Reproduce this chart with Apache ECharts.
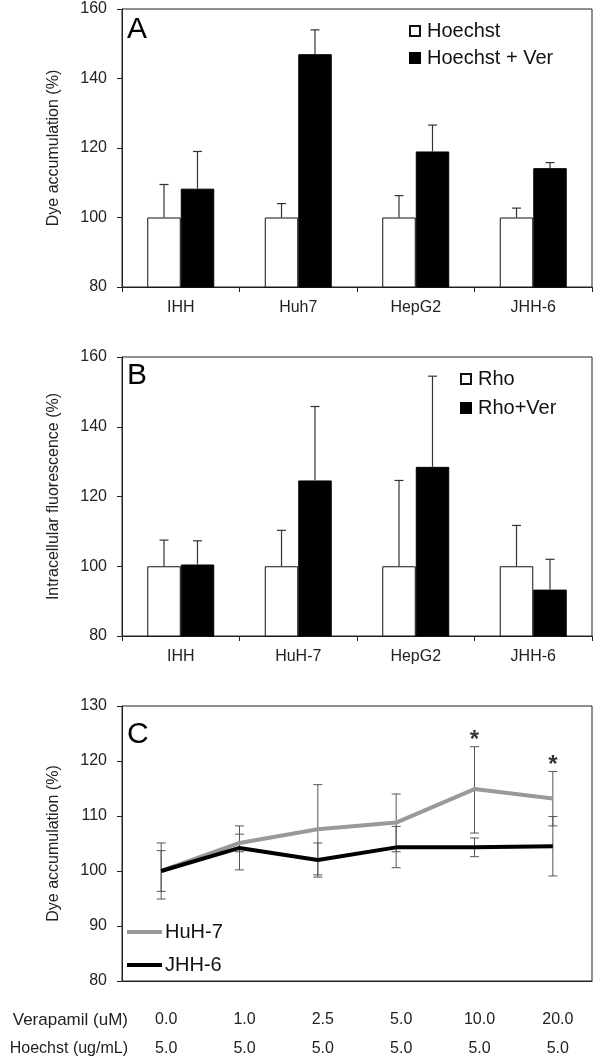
<!DOCTYPE html>
<html><head><meta charset="utf-8">
<script src="https://cdn.jsdelivr.net/npm/echarts@6/dist/echarts.min.js"></script>
<style>html,body{margin:0;padding:0;background:#fff}#c{width:600px;height:1063px}</style>
</head><body><div id="c"></div>
<script>
// Panel A
const catsA = ['IHH', 'Huh7', 'HepG2', 'JHH-6'];
const hoechst = [100, 100, 100, 100];
const hoechstErr = [109.5, 104, 106.3, 102.7];
const hoechstVer = [108.3, 147, 119, 114.2];
const hoechstVerErr = [119, 154, 126.6, 115.8];
// Panel B
const catsB = ['IHH', 'HuH-7', 'HepG2', 'JHH-6'];
const rho = [100, 100, 100, 100];
const rhoErr = [107.5, 110.3, 124.6, 111.7];
const rhoVer = [100.5, 124.6, 128.5, 93.3];
const rhoVerErr = [107.3, 145.8, 154.5, 102];
// Panel C
const verapamil = ['0.0', '1.0', '2.5', '5.0', '10.0', '20.0'];
const hoechstConc = ['5.0', '5.0', '5.0', '5.0', '5.0', '5.0'];
const huh7 = [100, 105.1, 107.6, 108.8, 114.9, 113.2];
const huh7Lo = [94.9, 103.5, 99.3, 103.5, 106.9, 108.2];
const huh7Hi = [105.1, 106.7, 115.7, 114.0, 122.6, 118.1];
const jhh6 = [100, 104.2, 102.0, 104.3, 104.3, 104.5];
const jhh6Lo = [96.3, 100.2, 98.9, 100.6, 102.6, 99.1];
const jhh6Hi = [103.7, 108.2, 105.1, 108.1, 106.0, 109.9];
const sigIdx = [4, 5];

const FONT = '"Liberation Sans", Arial, sans-serif';
const chart = echarts.init(document.getElementById('c'));

function barErr(name, axisIdx, vals, errs, offFrac) {
  return {
    type: 'custom', name: name + '_err', xAxisIndex: axisIdx, yAxisIndex: axisIdx, z: 5,
    data: vals.map((v, i) => [i, v, errs[i]]),
    renderItem(params, api) {
      const i = api.value(0);
      const p0 = api.coord([i, api.value(1)]);
      const p1 = api.coord([i, api.value(2)]);
      const cw = api.size([1, 0])[0];
      const x = p0[0] + offFrac * cw;
      const st = { stroke: '#333', lineWidth: 1.2 };
      return { type: 'group', children: [
        { type: 'line', shape: { x1: x, y1: p0[1], x2: x, y2: p1[1] }, style: st },
        { type: 'line', shape: { x1: x - 4.5, y1: p1[1], x2: x + 4.5, y2: p1[1] }, style: st }
      ]};
    }
  };
}
function lineErr(name, lo, hi) {
  return {
    type: 'custom', name: name + '_err', xAxisIndex: 2, yAxisIndex: 2, z: 1,
    data: lo.map((v, i) => [i, v, hi[i]]),
    renderItem(params, api) {
      const i = api.value(0);
      const a = api.coord([i, api.value(1)]);
      const b = api.coord([i, api.value(2)]);
      const st = { stroke: '#555', lineWidth: 1 };
      return { type: 'group', children: [
        { type: 'line', shape: { x1: a[0], y1: a[1], x2: b[0], y2: b[1] }, style: st },
        { type: 'line', shape: { x1: a[0] - 4.5, y1: a[1], x2: a[0] + 4.5, y2: a[1] }, style: st },
        { type: 'line', shape: { x1: b[0] - 4.5, y1: b[1], x2: b[0] + 4.5, y2: b[1] }, style: st }
      ]};
    }
  };
}

const axisLine = { show: true, lineStyle: { color: '#222', width: 1 } };
const yCommon = {
  type: 'value', axisLine, splitLine: { show: false },
  axisTick: { show: true, length: 5, lineStyle: { color: '#222' } },
  axisLabel: { color: '#222', fontSize: 16, fontFamily: FONT, margin: 15 },
  nameLocation: 'middle', nameRotate: 90,
  nameTextStyle: { color: '#222', fontSize: 16, fontFamily: FONT }
};
const xBar = (cats) => ({
  type: 'category', data: cats, axisLine,
  axisTick: { show: true, length: 5, alignWithLabel: false, lineStyle: { color: '#222' } },
  axisLabel: { color: '#222', fontSize: 16, fontFamily: FONT, margin: 13 }
});

const option = {
  animation: false,
  backgroundColor: '#fff',
  grid: [
    { left: 122, right: 8, top: 9, height: 278, show: true, borderColor: '#222', borderWidth: 1 },
    { left: 122, right: 8, top: 357, height: 279, show: true, borderColor: '#222', borderWidth: 1 },
    { left: 122, right: 8, top: 706, height: 286, show: true, borderColor: '#222', borderWidth: 1 }
  ],
  xAxis: [
    Object.assign(xBar(catsA), { gridIndex: 0 }),
    Object.assign(xBar(catsB), { gridIndex: 1 }),
    {
      gridIndex: 2, type: 'category', data: verapamil, axisLine, axisTick: { show: false },
      axisLabel: {
        color: '#222', fontSize: 16, fontFamily: FONT, margin: 24, lineHeight: 29,
        padding: [0, 0, 0, 10],
        formatter: (v, i) => v + '\n' + hoechstConc[i]
      }
    }
  ],
  yAxis: [
    Object.assign({}, yCommon, { gridIndex: 0, min: 80, max: 160, interval: 20, name: 'Dye accumulation (%)', nameGap: 60 }),
    Object.assign({}, yCommon, { gridIndex: 1, min: 80, max: 160, interval: 20, name: 'Intracellular fluorescence (%)', nameGap: 60 }),
    Object.assign({}, yCommon, { gridIndex: 2, min: 80, max: 130, interval: 10, name: 'Dye accumulation (%)', nameGap: 60 })
  ],
  legend: [
    { data: [{ name: 'Hoechst', icon: 'rect' }, { name: 'Hoechst + Ver', icon: 'rect' }], orient: 'vertical', left: 409, top: 21, padding: 0,
      itemWidth: 10, itemHeight: 10, itemGap: 7,
      textStyle: { fontSize: 20, color: '#111', fontFamily: FONT, padding: [0, 0, 0, 2] } },
    { data: [{ name: 'Rho', icon: 'rect' }, { name: 'Rho+Ver', icon: 'rect' }], orient: 'vertical', left: 460, top: 369, padding: 0,
      itemWidth: 10, itemHeight: 10, itemGap: 9,
      textStyle: { fontSize: 20, color: '#111', fontFamily: FONT, padding: [0, 0, 0, 2] } },
    { data: [{ name: 'HuH-7', icon: 'rect' }, { name: 'JHH-6', icon: 'rect' }], orient: 'vertical', left: 127, top: 922, padding: 0,
      itemWidth: 35, itemHeight: 4, itemGap: 13,
      textStyle: { fontSize: 20, color: '#111', fontFamily: FONT, padding: [0, 0, 0, -2] } }
  ],
  graphic: [
    { type: 'text', left: 127, top: 15, style: { text: 'A', font: '30px ' + FONT, fill: '#000' } },
    { type: 'text', left: 127, top: 361, style: { text: 'B', font: '30px ' + FONT, fill: '#000' } },
    { type: 'text', left: 127, top: 720, style: { text: 'C', font: '30px ' + FONT, fill: '#000' } },
    { type: 'text', right: 472, top: 1012, style: { text: 'Verapamil (uM)', font: '17px ' + FONT, fill: '#222', align: 'right' } },
    { type: 'text', right: 472, top: 1041, style: { text: 'Hoechst (ug/mL)', font: '16px ' + FONT, fill: '#222', align: 'right' } }
  ],
  series: [
    { type: 'bar', name: 'Hoechst', xAxisIndex: 0, yAxisIndex: 0, data: hoechst, barGap: '0%', barCategoryGap: '43%',
      itemStyle: { color: '#fff', borderColor: '#111', borderWidth: 1 } },
    { type: 'bar', name: 'Hoechst + Ver', xAxisIndex: 0, yAxisIndex: 0, data: hoechstVer, barGap: '0%', barCategoryGap: '43%',
      itemStyle: { color: '#000', borderColor: '#000', borderWidth: 1 } },
    barErr('Hoechst', 0, hoechst, hoechstErr, -0.1425),
    barErr('Hoechst + Ver', 0, hoechstVer, hoechstVerErr, 0.1425),
    { type: 'bar', name: 'Rho', xAxisIndex: 1, yAxisIndex: 1, data: rho, barGap: '0%', barCategoryGap: '43%',
      itemStyle: { color: '#fff', borderColor: '#111', borderWidth: 1 } },
    { type: 'bar', name: 'Rho+Ver', xAxisIndex: 1, yAxisIndex: 1, data: rhoVer, barGap: '0%', barCategoryGap: '43%',
      itemStyle: { color: '#000', borderColor: '#000', borderWidth: 1 } },
    barErr('Rho', 1, rho, rhoErr, -0.1425),
    barErr('Rho+Ver', 1, rhoVer, rhoVerErr, 0.1425),
    lineErr('HuH-7', huh7Lo, huh7Hi),
    lineErr('JHH-6', jhh6Lo, jhh6Hi),
    { type: 'line', name: 'HuH-7', xAxisIndex: 2, yAxisIndex: 2, data: huh7, symbol: 'none', z: 3,
      lineStyle: { color: '#999', width: 4 }, itemStyle: { color: '#999' } },
    { type: 'line', name: 'JHH-6', xAxisIndex: 2, yAxisIndex: 2, data: jhh6, symbol: 'none', z: 4,
      lineStyle: { color: '#000', width: 4 }, itemStyle: { color: '#000' } },
    { type: 'scatter', name: 'sig', xAxisIndex: 2, yAxisIndex: 2, symbolSize: 0, z: 6,
      data: sigIdx.map(i => [i, huh7Hi[i]]),
      label: { show: true, position: 'top', distance: -6, formatter: '*', fontSize: 24, fontWeight: 'bold', color: '#000', fontFamily: FONT } }
  ]
};
chart.setOption(option);
</script></body></html>
